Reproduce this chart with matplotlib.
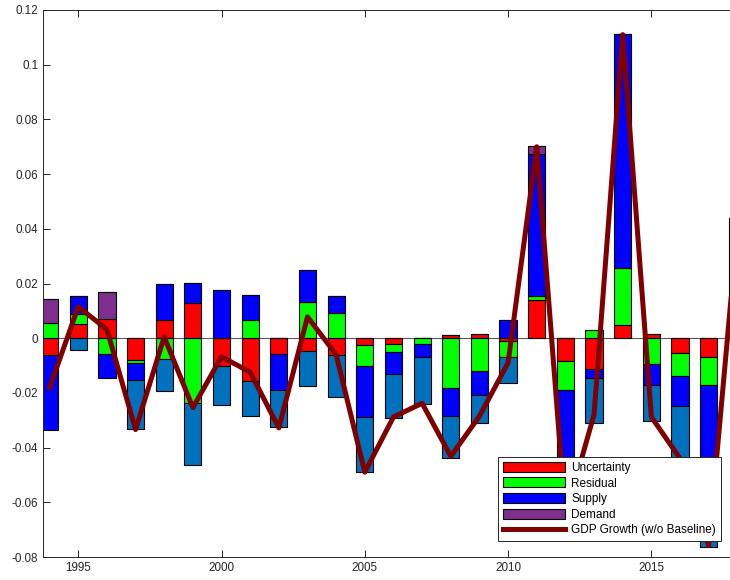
import matplotlib
matplotlib.use("Agg")

import matplotlib.pyplot as plt
import numpy as np
from matplotlib.ticker import FuncFormatter

years = list(range(1994, 2019))

uncertainty = [-0.0061, 0.0051, 0.0071, -0.0081, 0.0066, 0.0127, -0.0102, -0.0155,
               -0.0058, -0.0048, -0.0062, -0.0024, -0.0021, 0.0, 0.0012, 0.0016,
               -0.0009, 0.0141, -0.0083, -0.0112, 0.0050, 0.0015, -0.0054, -0.0069, 0.010]
residual = [0.0056, 0.0037, -0.0057, -0.0008, -0.0075, -0.0236, 0.0, 0.0068,
            0.0, 0.0133, 0.0093, -0.0077, -0.0029, -0.0020, -0.0182, -0.0121,
            -0.0060, 0.0013, -0.0106, 0.0029, 0.0207, -0.0096, -0.0086, -0.0103, 0.012]
supply = [-0.0273, 0.0066, -0.0088, -0.0064, 0.0132, 0.0075, 0.0178, 0.0089,
          -0.0130, 0.0117, 0.0062, -0.0187, -0.0080, -0.0048, -0.0101, -0.0087,
          0.0065, 0.0520, -0.0460, -0.0034, 0.0854, -0.0076, -0.0107, -0.0568, 0.022]
demand = [0.0089, 0.0, 0.0099, 0.0, 0.0, 0.0, 0.0, 0.0,
          0.0, 0.0, 0.0, 0.0, 0.0, 0.0, 0.0, 0.0,
          0.0, 0.0030, 0.0, 0.0, 0.0, 0.0, 0.0, 0.0, 0.0]
other = [0.0, -0.0044, 0.0, -0.0178, -0.0119, -0.0226, -0.0144, -0.0130,
         -0.0136, -0.0128, -0.0153, -0.0200, -0.0163, -0.0172, -0.0156, -0.0102,
         -0.0094, 0.0, 0.0, -0.0164, 0.0, -0.0131, -0.0193, -0.0022, 0.0]
gdp = [-0.0181, 0.0115, 0.0032, -0.0334, 0.0005, -0.0254, -0.0068, -0.0124,
       -0.0328, 0.0078, -0.0060, -0.0490, -0.0288, -0.0238, -0.0432, -0.0285,
       -0.0090, 0.0700, -0.0650, -0.0279, 0.1110, -0.0288, -0.0440, -0.0758, 0.040]

series = [
    ("Uncertainty", uncertainty, (1, 0, 0)),
    ("Residual", residual, (0, 1, 0)),
    ("Supply", supply, (0, 0, 1)),
    ("Demand", demand, (0.494, 0.184, 0.556)),
    (None, other, (0, 0.447, 0.741)),
]

plt.rcParams["font.family"] = ["Liberation Sans", "DejaVu Sans"]
plt.rcParams["font.size"] = 8.4
ink = "0.15"

fig = plt.figure(figsize=(7.3, 5.8), dpi=100)
ax = fig.add_axes([43 / 730, 23 / 580, 723 / 730, 547 / 580])

x = np.array(years, dtype=float)
pos_bottom = np.zeros(len(years))
neg_bottom = np.zeros(len(years))
handles = []
for label, vals, color in series:
    v = np.array(vals)
    bottom = np.where(v >= 0, pos_bottom, neg_bottom)
    bars = ax.bar(x, v, width=0.6, bottom=bottom, color=color,
                  edgecolor="black", linewidth=0.8, zorder=2)
    if label:
        bars.set_label(label)
        handles.append(bars)
    pos_bottom += np.where(v >= 0, v, 0)
    neg_bottom += np.where(v < 0, v, 0)

ax.axhline(0, color="0.35", linewidth=0.8, zorder=1)
line, = ax.plot(x, gdp, color=(0.5, 0, 0), linewidth=3.6, zorder=3,
                solid_joinstyle="round", label="GDP Growth (w/o Baseline)")
handles.append(line)

ax.set_xlim(1993.77, 2019)
ax.set_ylim(-0.08, 0.12)
ax.set_xticks([1995, 2000, 2005, 2010, 2015])
ax.set_yticks(np.arange(-0.08, 0.1201, 0.02))
ax.yaxis.set_major_formatter(FuncFormatter(lambda v, p: "0" if abs(v) < 1e-9 else f"{v:g}"))
ax.tick_params(direction="in", top=True, right=True, length=5, width=0.7,
               colors=ink, labelcolor=ink, labelsize=8.4)
for s in ax.spines.values():
    s.set_color(ink)
    s.set_linewidth(0.7)

leg = ax.legend(handles=handles, loc="lower left",
                bbox_to_anchor=(498 / 730, 39 / 580), bbox_transform=fig.transFigure,
                fontsize=8.5, handlelength=5.3, handleheight=0.92, labelspacing=0.3,
                handletextpad=0.5, borderpad=0.4, borderaxespad=0, fancybox=False,
                framealpha=1, edgecolor=ink)
leg.get_frame().set_linewidth(0.7)
leg.set_zorder(5)
for t in leg.get_texts():
    t.set_color("black")

fig.savefig("out.png", dpi=100)
plt.close(fig)
